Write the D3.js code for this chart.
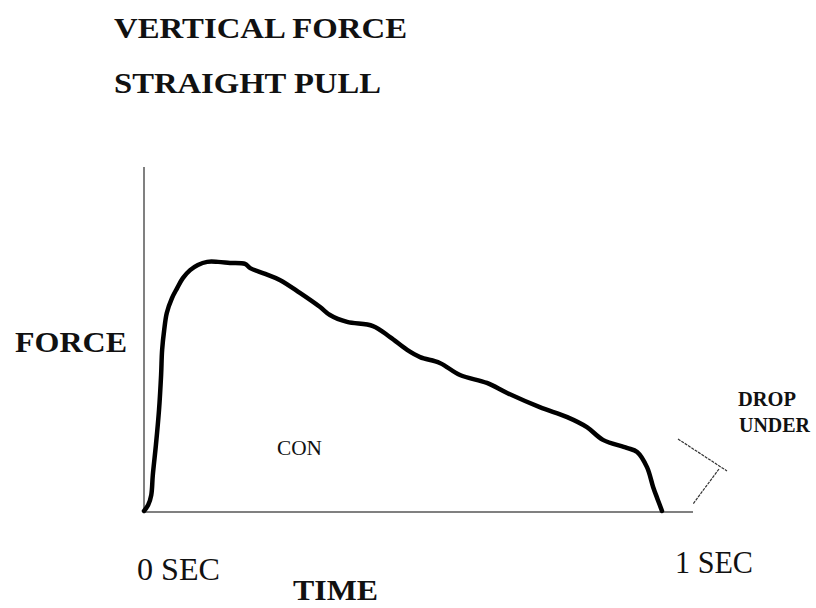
<!DOCTYPE html>
<html>
<head>
<meta charset="utf-8">
<script src="https://cdn.jsdelivr.net/npm/d3@7"></script>
<style>
  html, body { margin: 0; padding: 0; background: #fff; }
  svg { display: block; }
  text { font-family: "Liberation Serif", "Times New Roman", serif; fill: #111; }
</style>
</head>
<body>
<svg id="chart" width="816" height="608"></svg>
<script>
// ---- data (time in seconds, force in relative units) ----
const titleLines = ["VERTICAL FORCE", "STRAIGHT PULL"];
const yLabel = "FORCE";
const xLabel = "TIME";
const tickLabels = ["0 SEC", "1 SEC"];
const phaseLabel = "CON";
const noteLines = ["DROP", "UNDER"];
const time = [0, 0.008, 0.014, 0.017, 0.023, 0.029, 0.033, 0.035, 0.039, 0.044, 0.054, 0.064, 0.075, 0.089, 0.104, 0.122, 0.143, 0.166, 0.195, 0.205, 0.234, 0.263, 0.301, 0.340, 0.359, 0.392, 0.442, 0.475, 0.508, 0.533, 0.571, 0.610, 0.662, 0.701, 0.764, 0.817, 0.855, 0.886, 0.932, 0.952, 0.971, 0.983, 0.992, 1.0];
const force = [0.3, 2.0, 4.9, 10.7, 19.4, 29.6, 39.7, 47.0, 52.8, 57.7, 62.0, 64.9, 67.8, 70.1, 71.6, 72.5, 72.5, 72.2, 71.9, 70.7, 69.0, 67.2, 63.5, 59.4, 57.1, 55.1, 53.9, 50.7, 47.0, 44.9, 43.2, 39.7, 37.4, 34.5, 30.4, 27.5, 24.6, 20.9, 18.6, 17.4, 13.0, 7.2, 3.5, 0.3];

const svg = d3.select("#chart");
const x = d3.scaleLinear().domain([0, 1]).range([144, 662]);
const y = d3.scaleLinear().domain([0, 100]).range([512, 167]);

// axes (plain lines, no ticks)
svg.append("line").attr("x1", x(0)).attr("x2", 693).attr("y1", y(0)).attr("y2", y(0))
  .attr("stroke", "#808080").attr("stroke-width", 2);
svg.append("line").attr("x1", x(0)).attr("x2", x(0)).attr("y1", y(0)).attr("y2", y(100))
  .attr("stroke", "#808080").attr("stroke-width", 2);

// force curve
const pts = time.map((t, i) => [t, force[i]]);
const line = d3.line().x(d => x(d[0])).y(d => y(d[1])).curve(d3.curveCatmullRom.alpha(0.5));
svg.append("path").datum(pts).attr("d", line)
  .attr("fill", "none").attr("stroke", "#000").attr("stroke-width", 4.5)
  .attr("stroke-linejoin", "round").attr("stroke-linecap", "round");

// drop-under bracket
svg.append("path")
  .attr("d", `M678,439 L727,471 M719,469 L693,504`)
  .attr("fill", "none").attr("stroke", "#333").attr("stroke-width", 1.2)
  .attr("stroke-dasharray", "3,1");

function txt(s, px, py, size, weight, len) {
  const t = svg.append("text").attr("x", px).attr("y", py)
    .attr("font-size", size).attr("font-weight", weight).text(s);
  if (len) t.attr("textLength", len).attr("lengthAdjust", "spacingAndGlyphs");
  return t;
}

// titles
txt(titleLines[0], 114, 38, 30, "bold", 293);
txt(titleLines[1], 114, 93, 30, "bold", 267);
// axis labels
txt(yLabel, 15, 352, 30, "bold", 112);
txt(xLabel, 293, 600, 29, "bold", 85);
txt(tickLabels[0], x(0) - 7, 580, 31, "normal", 83);
txt(tickLabels[1], x(1) + 13, 573, 31, "normal", 78);
// annotations
txt(phaseLabel, 277, 455, 21, "normal", 45);
txt(noteLines[0], 738, 406, 20, "bold", 58);
txt(noteLines[1], 739, 432, 20, "bold", 71);
</script>
</body>
</html>
